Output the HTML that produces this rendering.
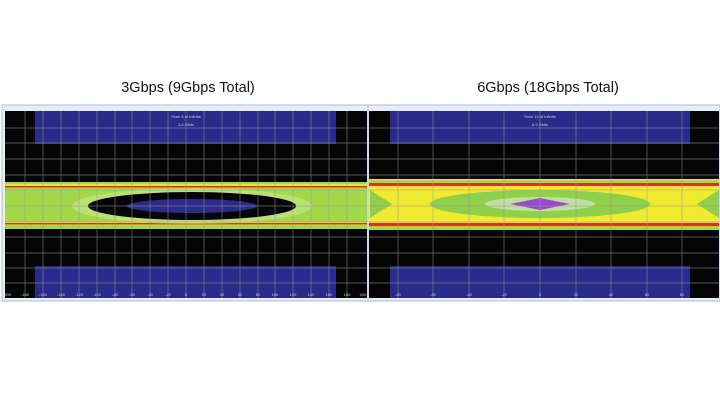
<!DOCTYPE html>
<html><head><meta charset="utf-8"><style>
body{margin:0;background:#fff;width:720px;height:404px;overflow:hidden;font-family:"Liberation Sans",sans-serif}
</style></head><body>
<svg width="720" height="404" xmlns="http://www.w3.org/2000/svg">
<text x="188" y="92" font-size="14.5" text-anchor="middle" fill="#111">3Gbps (9Gbps Total)</text>
<text x="548" y="92" font-size="14.5" text-anchor="middle" fill="#111">6Gbps (18Gbps Total)</text>

<!-- LEFT -->
<rect x="2" y="105" width="367" height="196" fill="#e8eef8" stroke="#aabde0"/>
<rect x="5" y="111" width="362" height="187" fill="#050505"/>
<rect x="35" y="111" width="301" height="33" fill="#2a2a8a"/>
<rect x="35" y="266" width="301" height="32" fill="#2a2a8a"/>
<rect x="5" y="182" width="362" height="47" fill="#a2d84a"/>
<rect x="5" y="184" width="362" height="3" fill="#f0e030"/>
<rect x="5" y="186" width="362" height="1.5" fill="#e03020"/>
<rect x="5" y="222" width="362" height="3" fill="#f0e030"/>
<rect x="5" y="223" width="362" height="1.5" fill="#e03020"/>
<ellipse cx="192" cy="206" rx="120" ry="18" fill="#c8e890" opacity="0.6"/>
<ellipse cx="192" cy="206" rx="104" ry="14" fill="#050505"/>
<ellipse cx="192" cy="206" rx="65" ry="7" fill="#2a2a8a"/>
<g stroke="#999" stroke-width="0.7" opacity="0.7">
<line x1="25" y1="111" x2="25" y2="298"/><line x1="43" y1="111" x2="43" y2="298"/><line x1="61" y1="111" x2="61" y2="298"/><line x1="79" y1="111" x2="79" y2="298"/><line x1="97" y1="111" x2="97" y2="298"/><line x1="115" y1="111" x2="115" y2="298"/><line x1="132" y1="111" x2="132" y2="298"/><line x1="150" y1="111" x2="150" y2="298"/><line x1="168" y1="111" x2="168" y2="298"/><line x1="186" y1="111" x2="186" y2="298"/><line x1="204" y1="111" x2="204" y2="298"/><line x1="222" y1="111" x2="222" y2="298"/><line x1="240" y1="111" x2="240" y2="298"/><line x1="258" y1="111" x2="258" y2="298"/><line x1="275" y1="111" x2="275" y2="298"/><line x1="293" y1="111" x2="293" y2="298"/><line x1="311" y1="111" x2="311" y2="298"/><line x1="329" y1="111" x2="329" y2="298"/><line x1="347" y1="111" x2="347" y2="298"/>
<line x1="5" y1="128" x2="367" y2="128"/><line x1="5" y1="143" x2="367" y2="143"/><line x1="5" y1="159" x2="367" y2="159"/><line x1="5" y1="175" x2="367" y2="175"/><line x1="5" y1="190" x2="367" y2="190"/><line x1="5" y1="206" x2="367" y2="206"/><line x1="5" y1="222" x2="367" y2="222"/><line x1="5" y1="237" x2="367" y2="237"/><line x1="5" y1="253" x2="367" y2="253"/><line x1="5" y1="268" x2="367" y2="268"/><line x1="5" y1="283" x2="367" y2="283"/>
</g>
<text x="186" y="118" font-size="4" fill="#ccc" text-anchor="middle">Scan 6 of Infinite</text>
<text x="186" y="126" font-size="4" fill="#ccc" text-anchor="middle">3.6 Gbits</text>
<g font-size="4" fill="#ccc" text-anchor="middle"><text x="7" y="296">-200</text><text x="25" y="296">-180</text><text x="43" y="296">-160</text><text x="61" y="296">-140</text><text x="79" y="296">-120</text><text x="97" y="296">-100</text><text x="115" y="296">-80</text><text x="132" y="296">-60</text><text x="150" y="296">-40</text><text x="168" y="296">-20</text><text x="186" y="296">0</text><text x="204" y="296">20</text><text x="222" y="296">40</text><text x="240" y="296">60</text><text x="258" y="296">80</text><text x="275" y="296">100</text><text x="293" y="296">120</text><text x="311" y="296">140</text><text x="329" y="296">160</text><text x="347" y="296">180</text><text x="363" y="296">200</text></g>

<!-- RIGHT -->
<rect x="368" y="105" width="352" height="196" fill="#e8eef8" stroke="#aabde0"/>
<rect x="369" y="111" width="350" height="187" fill="#050505"/>
<rect x="390" y="111" width="300" height="33" fill="#2a2a8a"/>
<rect x="390" y="266" width="300" height="32" fill="#2a2a8a"/>
<rect x="369" y="179" width="350" height="51" fill="#f0ea30"/>
<rect x="369" y="180" width="350" height="4" fill="#a2d84a"/>
<rect x="369" y="183" width="350" height="3" fill="#e03020"/>
<rect x="369" y="223" width="350" height="3" fill="#e03020"/>
<rect x="369" y="226" width="350" height="4" fill="#a2d84a"/>
<ellipse cx="540" cy="204" rx="110" ry="14" fill="#8fcf4a"/>
<polygon points="370,190 392,204 370,218" fill="#8fcf4a"/>
<polygon points="719,190 697,204 719,218" fill="#8fcf4a"/>
<ellipse cx="540" cy="204" rx="55" ry="7" fill="#c0e0a0"/>
<polygon points="510,204 540,198 570,204 540,210" fill="#9a4ad0"/>
<g stroke="#999" stroke-width="0.7" opacity="0.7">
<line x1="398" y1="111" x2="398" y2="298"/><line x1="433" y1="111" x2="433" y2="298"/><line x1="469" y1="111" x2="469" y2="298"/><line x1="504" y1="111" x2="504" y2="298"/><line x1="540" y1="111" x2="540" y2="298"/><line x1="576" y1="111" x2="576" y2="298"/><line x1="611" y1="111" x2="611" y2="298"/><line x1="647" y1="111" x2="647" y2="298"/><line x1="682" y1="111" x2="682" y2="298"/>
<line x1="369" y1="128" x2="719" y2="128"/><line x1="369" y1="143" x2="719" y2="143"/><line x1="369" y1="159" x2="719" y2="159"/><line x1="369" y1="175" x2="719" y2="175"/><line x1="369" y1="190" x2="719" y2="190"/><line x1="369" y1="206" x2="719" y2="206"/><line x1="369" y1="222" x2="719" y2="222"/><line x1="369" y1="237" x2="719" y2="237"/><line x1="369" y1="253" x2="719" y2="253"/><line x1="369" y1="268" x2="719" y2="268"/><line x1="369" y1="283" x2="719" y2="283"/>
</g>
<text x="540" y="118" font-size="4" fill="#ccc" text-anchor="middle">Scan 14 of Infinite</text>
<text x="540" y="126" font-size="4" fill="#ccc" text-anchor="middle">5.9 Gbits</text>
<g font-size="4" fill="#ccc" text-anchor="middle"><text x="398" y="296">-80</text><text x="433" y="296">-60</text><text x="469" y="296">-40</text><text x="504" y="296">-20</text><text x="540" y="296">0</text><text x="576" y="296">20</text><text x="611" y="296">40</text><text x="647" y="296">60</text><text x="682" y="296">80</text></g>
</svg>
</body></html>
